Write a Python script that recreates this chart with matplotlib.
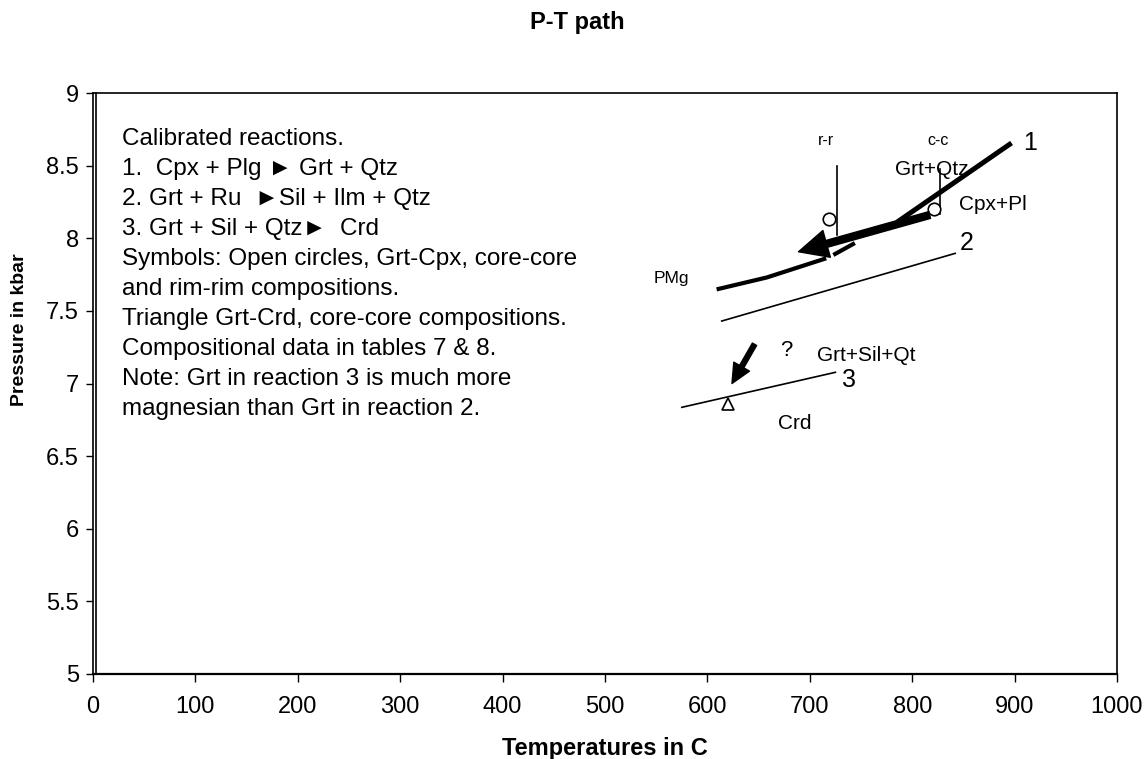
import matplotlib
matplotlib.use("Agg")
import matplotlib.pyplot as plt
from matplotlib.lines import Line2D

plt.rcParams['font.family'] = ['Liberation Sans', 'DejaVu Sans']

# ---- data ----
# reaction curves (T in C, P in kbar)
r1_T = [785, 897]
r1_P = [8.11, 8.656]
r2_T = [614, 842]
r2_P = [7.43, 7.896]
r3_T = [575, 725]
r3_P = [6.836, 7.077]
# PMg path (thick) and short thick segment beside the arrow
pmg_T = [609, 658, 716]
pmg_P = [7.648, 7.73, 7.862]
seg_T = [723, 744]
seg_P = [7.885, 7.967]
# main P-T arrow: tail -> head
arrow_T = [817, 689]
arrow_P = [8.16, 7.907]
# small arrow toward reaction 3
arrow2_T = [646, 624]
arrow2_P = [7.27, 7.00]
# r-r and c-c vertical bars
rr_T = [727, 727]
rr_P = [8.50, 8.02]
cc_T = [827, 827]
cc_P = [8.476, 8.166]
# Grt-Cpx open circles (rim-rim, core-core)
circ_T = [719, 821]
circ_P = [8.133, 8.20]
# Grt-Crd triangle
tri_T = [620]
tri_P = [6.86]

xticks = [0, 100, 200, 300, 400, 500, 600, 700, 800, 900, 1000]
yticks = [5, 5.5, 6, 6.5, 7, 7.5, 8, 8.5, 9]

labels_text = ["r-r", "c-c", "Grt+Qtz", "Cpx+Pl", "PMg", "?", "Grt+Sil+Qt", "Crd", "1", "2", "3"]
labels_T = [716, 825, 819, 879, 565, 677, 755, 685, 915, 853, 738]
labels_P = [8.676, 8.676, 8.475, 8.23, 7.724, 7.23, 7.19, 6.726, 8.656, 7.965, 7.025]
labels_size = [11.5, 11.5, 15, 15, 12.5, 16, 15, 15, 18, 18, 18]

note_lines = [
    "Calibrated reactions.",
    "1.  Cpx + Plg \u25ba Grt + Qtz",
    "2. Grt + Ru  \u25baSil + Ilm + Qtz",
    "3. Grt + Sil + Qtz\u25ba  Crd",
    "Symbols: Open circles, Grt-Cpx, core-core",
    "and rim-rim compositions.",
    "Triangle Grt-Crd, core-core compositions.",
    "Compositional data in tables 7 & 8.",
    "Note: Grt in reaction 3 is much more",
    "magnesian than Grt in reaction 2.",
]

# ---- figure ----
W, H = 1144, 759
L, R, T, B = 93, 1117, 93, 674
fig = plt.figure(figsize=(W / 100, H / 100), dpi=100)
ax = fig.add_axes([L / W, (H - B) / H, (R - L) / W, (B - T) / H])
ax.set_xlim(0, 1000)
ax.set_ylim(5, 9)

ax.plot(r1_T, r1_P, color='black', lw=3.6, solid_capstyle='butt')
ax.plot(r2_T, r2_P, color='black', lw=1.2)
ax.plot(r3_T, r3_P, color='black', lw=1.2)
ax.plot(pmg_T, pmg_P, color='black', lw=3.0, solid_capstyle='butt')
ax.plot(seg_T, seg_P, color='black', lw=3.0, solid_capstyle='butt')
ax.plot(rr_T, rr_P, color='black', lw=1.2)
ax.plot(cc_T, cc_P, color='black', lw=1.2)

ax.annotate("", xy=(arrow_T[1], arrow_P[1]), xytext=(arrow_T[0], arrow_P[0]),
            arrowprops=dict(facecolor='black', edgecolor='black', width=5,
                            headwidth=20, headlength=21, shrink=0))
ax.annotate("", xy=(arrow2_T[1], arrow2_P[1]), xytext=(arrow2_T[0], arrow2_P[0]),
            arrowprops=dict(facecolor='black', edgecolor='black', width=3.5,
                            headwidth=13, headlength=14, shrink=0))

ax.plot(circ_T, circ_P, linestyle='none', marker='o', markersize=9,
        markerfacecolor='white', markeredgecolor='black', markeredgewidth=1.2)
ax.plot(tri_T, tri_P, linestyle='none', marker='^', markersize=9,
        markerfacecolor='white', markeredgecolor='black', markeredgewidth=1.2)

for t, x, y, s in zip(labels_text, labels_T, labels_P, labels_size):
    ax.text(x, y, t, fontsize=s, ha='center', va='center')

for i, line in enumerate(note_lines):
    ax.text(0.028, 0.9203 - i * 0.0516, line, transform=ax.transAxes,
            fontsize=17.5, ha='left', va='center')

ax.set_xticks(xticks)
ax.set_xticklabels([str(v) for v in xticks])
ax.set_yticks(yticks)
ax.set_yticklabels([f"{v:g}" for v in yticks])
ax.tick_params(axis='x', direction='out', length=6, width=1, labelsize=17, pad=10)
ax.tick_params(axis='y', direction='out', length=5, width=1, labelsize=17, pad=5)
for sp in ax.spines.values():
    sp.set_linewidth(1.2)
ax.spines['bottom'].set_linewidth(1.6)

# second (inner) line of the doubled left frame
fig.add_artist(Line2D([(L + 3) / W, (L + 3) / W], [(H - B) / H, (H - T) / H],
                      color='black', lw=1.2))

fig.text(577 / W, 1 - 22 / H, "P-T path", ha='center', va='center',
         fontsize=17, fontweight='bold')
fig.text(605 / W, 1 - 748 / H, "Temperatures in C", ha='center', va='center',
         fontsize=17, fontweight='bold')
fig.text(20 / W, 1 - 330 / H, "Pressure in kbar", ha='center', va='center',
         rotation=90, fontsize=14, fontweight='bold')

fig.savefig("out.png", dpi=100)
